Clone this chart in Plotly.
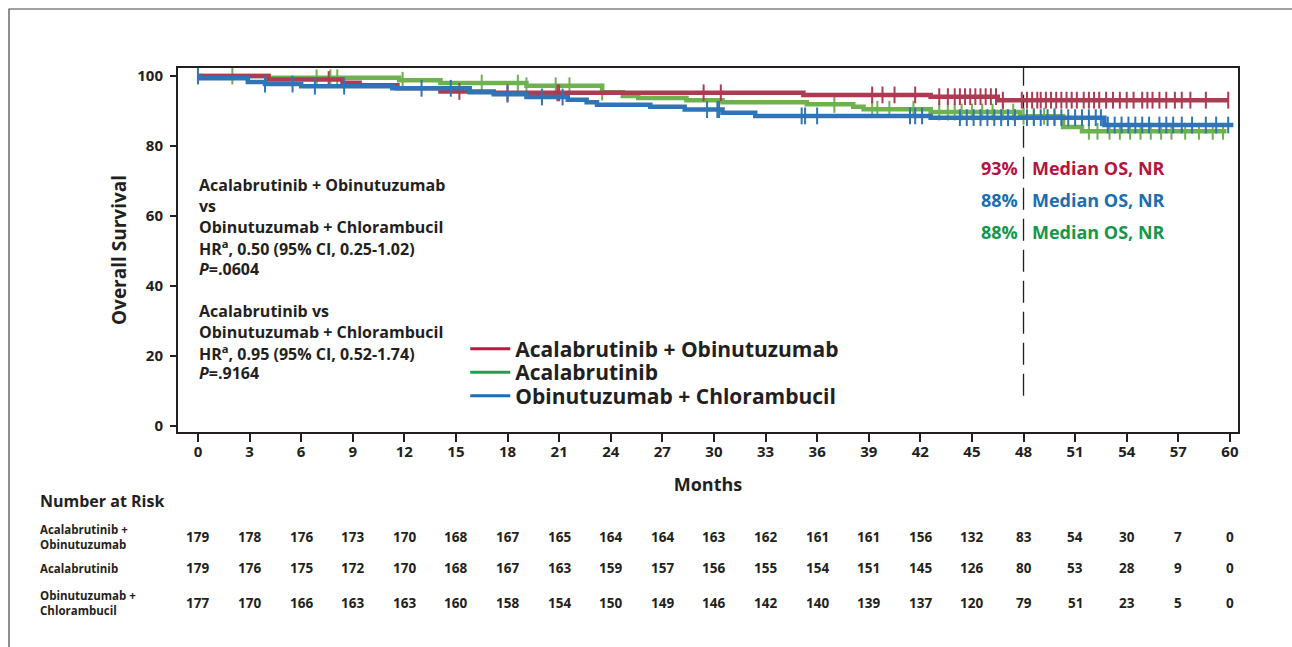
import numpy as np
import plotly.graph_objects as go

# ---- data -----------------------------------------------------------------
month_ticks = list(range(0, 61, 3))
surv_ticks = [0, 20, 40, 60, 80, 100]

# Kaplan-Meier step estimates: event times (months) and survival (%)
ao_time = [0, 4.1, 8.4, 9.4, 11.6, 14.1, 17.2, 35.2, 42.6, 46.5, 59.9]
ao_surv = [100, 99.0, 98.1, 97.4, 96.5, 95.6, 95.2, 94.6, 94.1, 93.1, 93.1]

ac_time = [0, 4.1, 11.7, 14.1, 19.1, 23.5, 24.7, 25.6, 28.4, 30.5, 35.4,
           38.1, 38.7, 42.6, 47.8, 50.3, 51.4, 59.8]
ac_surv = [100, 99.5, 98.8, 98.0, 97.2, 95.4, 94.3, 93.7, 93.1, 92.5, 91.9,
           91.2, 90.5, 89.7, 88.5, 85.4, 84.2, 84.2]

oc_time = [0, 0.1, 2.9, 3.9, 6.0, 11.3, 15.8, 17.2, 19.1, 21.5, 22.6, 23.2,
           26.3, 28.3, 30.5, 32.4, 42.6, 52.7, 60.2]
oc_surv = [100, 99.4, 98.3, 97.7, 97.1, 96.5, 95.4, 94.8, 94.0, 93.2, 92.5,
           91.8, 91.2, 90.4, 89.5, 88.6, 88.1, 86.0, 86.0]

# censoring times (months)
ao_cens = [7.6, 15.2, 18.0, 20.9, 21.0, 29.4, 30.4, 39.2, 39.8, 40.5, 41.7,
           43.1, 43.6, 44.0, 44.3, 44.6, 44.9, 45.2, 45.5, 45.8, 46.1, 46.4,
           46.8, 47.9, 48.2, 48.5, 48.8, 49.0, 49.3, 49.6, 49.9, 50.2, 50.5,
           50.8, 51.1, 51.5, 51.8, 52.1, 52.4, 52.8, 53.2, 53.6, 54.0, 54.4,
           54.9, 55.2, 55.5, 55.9, 56.3, 56.8, 57.2, 57.7, 58.6, 59.9]
ac_cens = [2.0, 6.9, 7.7, 8.1, 11.9, 16.5, 18.6, 19.1, 20.8, 21.6, 23.5, 37.0,
           39.2, 39.5, 40.2, 41.6, 43.1, 43.6, 44.0, 44.4, 45.0, 45.6, 46.2,
           46.8, 47.4, 48.0, 48.6, 49.2, 49.8, 51.8, 52.3, 53.0, 53.6, 54.2,
           54.8, 55.4, 56.0, 56.6, 57.4, 58.2, 59.0, 59.6]
oc_cens = [0.0, 3.9, 5.5, 6.8, 8.5, 13.0, 14.7, 18.0, 20.0, 21.2, 29.6, 30.2,
           30.3, 35.1, 35.3, 36.0, 41.4, 41.7, 42.1, 44.3, 44.7, 45.1, 45.5,
           45.9, 46.3, 46.7, 47.1, 47.5, 48.2, 48.6, 49.0, 49.4, 49.8, 50.2,
           50.6, 51.0, 51.4, 51.8, 52.2, 52.5, 52.9, 53.3, 53.7, 54.1, 54.5,
           54.9, 55.3, 55.9, 56.3, 56.7, 57.2, 57.8, 58.6, 59.2, 59.9]

# number at risk at each 3-month tick
risk_ao = [179, 178, 176, 173, 170, 168, 167, 165, 164, 164, 163, 162, 161,
           161, 156, 132, 83, 54, 30, 7, 0]
risk_ac = [179, 176, 175, 172, 170, 168, 167, 163, 159, 157, 156, 155, 154,
           151, 145, 126, 80, 53, 28, 9, 0]
risk_oc = [177, 170, 166, 163, 163, 160, 158, 154, 150, 149, 146, 142, 140,
           139, 137, 120, 79, 51, 23, 5, 0]

arm_names = ["Acalabrutinib + Obinutuzumab", "Acalabrutinib",
             "Obinutuzumab + Chlorambucil"]
risk_labels = ["Acalabrutinib +<br>Obinutuzumab", "Acalabrutinib",
               "Obinutuzumab +<br>Chlorambucil"]
os_48 = ["93%", "88%", "88%"]

hr_lines = ["Acalabrutinib + Obinutuzumab", "vs",
            "Obinutuzumab + Chlorambucil",
            "HR<sup>a</sup>, 0.50 (95% CI, 0.25-1.02)", "<i>P</i>=.0604",
            "Acalabrutinib vs", "Obinutuzumab + Chlorambucil",
            "HR<sup>a</sup>, 0.95 (95% CI, 0.52-1.74)", "<i>P</i>=.9164"]

# ---- styling --------------------------------------------------------------
INK = "#231F20"
FONT = "Open Sans"
curve_cols = ["#AD3B51", "#6DB24F", "#2F74B7"]
text_cols = ["#B8123E", "#1B6DB4", "#15974A"]
legend_cols = ["#C0163F", "#20A04F", "#1E6EB5"]

x_lo, x_hi = -1.16, 60.47
y_lo, y_hi = -1.8, 102.3


def step_value(times, surv, t):
    idx = np.searchsorted(np.asarray(times), np.asarray(t), side="right") - 1
    return np.asarray(surv)[idx]


def py(pixel_y):
    """paper y for a pixel row (plot area spans rows 68..432)"""
    return (432 - pixel_y) / 364


def px(pixel_x):
    """paper x for a pixel column (plot area spans columns 178..1238)"""
    return (pixel_x - 178) / 1060


fig = go.Figure()

series = [(ao_time, ao_surv, ao_cens), (ac_time, ac_surv, ac_cens),
          (oc_time, oc_surv, oc_cens)]
# draw order: green, red, blue so blue sits on top
for i in [1, 0, 2]:
    t, s, c = series[i]
    fig.add_trace(go.Scatter(
        x=t, y=s, mode="lines", line=dict(color=curve_cols[i], width=4.5, shape="hv"),
        showlegend=False, hoverinfo="skip"))
    fig.add_trace(go.Scatter(
        x=c, y=step_value(t, s, c), mode="markers",
        marker=dict(symbol="line-ns", size=12,
                    line=dict(color=curve_cols[i], width=2)),
        showlegend=False, hoverinfo="skip"))

# legend entries, one legend per arm for tight spacing
legend_y = [py(349), py(372.5), py(396)]
for i, name in enumerate(arm_names):
    lg = "legend" if i == 0 else f"legend{i + 1}"
    fig.add_trace(go.Scatter(
        x=[None], y=[None], mode="lines", name=name,
        line=dict(color=legend_cols[i], width=3), legend=lg))

legend_common = dict(x=0.271, xanchor="left", yanchor="middle",
                     bgcolor="rgba(0,0,0,0)", borderwidth=0,
                     font=dict(family=FONT, size=21, color=INK, weight="bold"),
                     itemwidth=40)
fig.update_layout(
    legend=dict(y=legend_y[0], **legend_common),
    legend2=dict(y=legend_y[1], **legend_common),
    legend3=dict(y=legend_y[2], **legend_common),
)

# 48-month reference line
fig.add_shape(type="line", x0=48, x1=48, y0=8.6, y1=y_hi, xref="x", yref="y",
              line=dict(color=INK, width=1.3, dash="22px,9px"), layer="below")

# outer frame
fig.add_shape(type="rect", xref="paper", yref="paper",
              x0=px(9), x1=px(1310), y0=py(670), y1=py(9),
              line=dict(color="#444444", width=1.2), layer="below")

annotations = []

# hazard ratio block, one annotation per line
hr_rows = [185, 206, 227, 248, 269, 311, 332, 352.5, 373]
for txt, row in zip(hr_lines, hr_rows):
    annotations.append(dict(
        x=0, y=py(row), xref="x", yref="paper", xanchor="left",
        yanchor="middle", align="left", showarrow=False, text=txt,
        borderpad=0,
        font=dict(family=FONT, size=16, color=INK, weight="bold")))

# survival at 48 months
os_rows = [168, 200, 232]
for i in range(3):
    annotations.append(dict(
        x=47.79, y=py(os_rows[i]), xref="x", yref="paper", xanchor="right",
        yanchor="middle", showarrow=False, text=os_48[i],
        font=dict(family=FONT, size=18, color=text_cols[i], weight="bold")))
    annotations.append(dict(
        x=48.37, y=py(os_rows[i]), xref="x", yref="paper", xanchor="left",
        yanchor="middle", showarrow=False, text="Median OS, NR",
        font=dict(family=FONT, size=18, color=text_cols[i], weight="bold")))

# number-at-risk table
annotations.append(dict(
    x=px(38), y=py(501), xref="paper", yref="paper",
    xanchor="left", yanchor="middle", showarrow=False, text="Number at Risk",
    font=dict(family=FONT, size=16, color=INK, weight="bold")))
row_rows = [537, 568, 603]
for r, counts in enumerate([risk_ao, risk_ac, risk_oc]):
    annotations.append(dict(
        x=px(38), y=py(row_rows[r]), xref="paper", yref="paper",
        xanchor="left", yanchor="middle", align="left", showarrow=False,
        text=risk_labels[r],
        font=dict(family=FONT, size=11.5, color=INK, weight="bold")))
    for m, n in zip(month_ticks, counts):
        annotations.append(dict(
            x=m, y=py(row_rows[r]), xref="x", yref="paper", xanchor="center",
            yanchor="middle", showarrow=False, text=str(n),
            font=dict(family=FONT, size=13.5, color=INK, weight="bold")))

fig.update_layout(
    width=1292, height=647,
    margin=dict(l=178, r=54, t=68, b=215, pad=0),
    plot_bgcolor="white", paper_bgcolor="white",
    font=dict(family=FONT, color=INK),
    annotations=annotations,
    xaxis=dict(
        range=[x_lo, x_hi], tickmode="array", tickvals=month_ticks,
        ticks="outside", ticklen=8, tickwidth=2, tickcolor=INK,
        showline=True, linewidth=2, linecolor=INK, mirror=True,
        showgrid=False, zeroline=False, ticklabelstandoff=-3,
        tickfont=dict(family=FONT, size=15, color=INK, weight="bold"),
        title=dict(text="Months", standoff=18,
                   font=dict(family=FONT, size=18, color=INK, weight="bold"))),
    yaxis=dict(
        range=[y_lo, y_hi], tickmode="array", tickvals=surv_ticks,
        ticks="outside", ticklen=6, tickwidth=2, tickcolor=INK,
        showline=True, linewidth=2, linecolor=INK, mirror=True,
        showgrid=False, zeroline=False, ticklabelstandoff=4,
        tickfont=dict(family=FONT, size=15, color=INK, weight="bold"),
        title=dict(text="Overall Survival", standoff=6,
                   font=dict(family=FONT, size=19, color=INK, weight="bold"))),
)

fig.write_html("out.html")
